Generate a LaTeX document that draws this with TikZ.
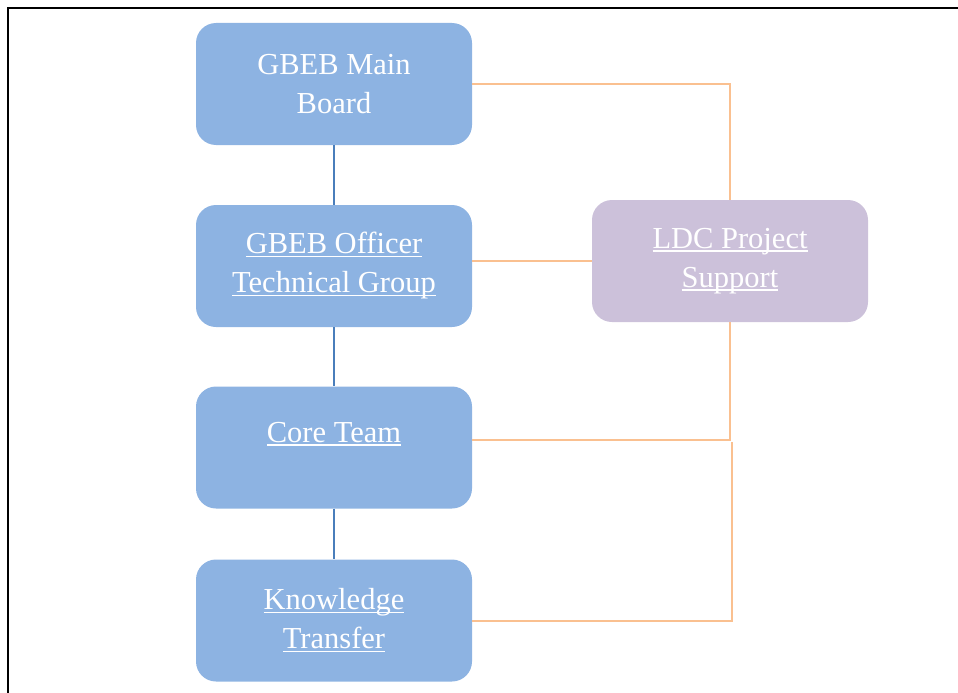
\documentclass[tikz,border=0pt]{standalone}
\usepackage{fontspec}
\setmainfont{Liberation Serif}
\definecolor{boxblue}{HTML}{8DB3E2}
\definecolor{boxpurple}{HTML}{CCC1DA}
\definecolor{linkblue}{HTML}{4A7EBB}
\definecolor{linkorange}{HTML}{FAC090}
\newcommand\myul[1]{\setbox0\hbox{#1}\rlap{\rule[-3.5pt]{\wd0}{1.4pt}}\box0}
\begin{document}
\begin{tikzpicture}[x=1pt,y=-1pt,
  orgbox/.style={rounded corners=20pt, minimum width=276pt, minimum height=122pt,
    inner sep=0pt, align=center, text=white,
    font=\fontsize{30.5}{39}\selectfont},
  bluebox/.style={orgbox, fill=boxblue},
  purplebox/.style={orgbox, fill=boxpurple},
  bluelink/.style={draw=linkblue, line width=2pt},
  orangelink/.style={draw=linkorange, line width=2pt}]
\useasboundingbox (0,0) rectangle (958,693);
\draw[line width=2pt] (8,694) -- (8,8) -- (959,8);
\node[bluebox] (main) at (334,84) {GBEB Main\\Board};
\node[bluebox] (officer) at (334,266) {\myul{GBEB Officer}\\\myul{Technical Group}};
\node[bluebox] (core) at (334,447.5) {};
\node[text=white, font=\fontsize{30.5}{39}\selectfont, inner sep=0pt, anchor=base] (coretext) at (334,442) {\myul{Core Team}};
\node[bluebox] (know) at (334,620.5) {\myul{Knowledge}\\\myul{Transfer}};
\node[purplebox] (ldc) at (730,261) {\myul{LDC Project}\\\myul{Support}};
\coordinate (c1) at (730,440);
\coordinate (c2) at (732,442);
\draw[bluelink] (main.south) -- (officer.north);
\draw[bluelink] (officer.south) -- (core.north);
\draw[bluelink] (core.south) -- (know.north);
\draw[orangelink] (main.east) -| (ldc.north);
\draw[orangelink] (ldc.west -| officer.east) -- (ldc.west);
\draw[orangelink] (ldc.south) -- (c1) -- (c1 -| core.east);
\draw[orangelink] (know.east) -| (c2);
\end{tikzpicture}
\end{document}
